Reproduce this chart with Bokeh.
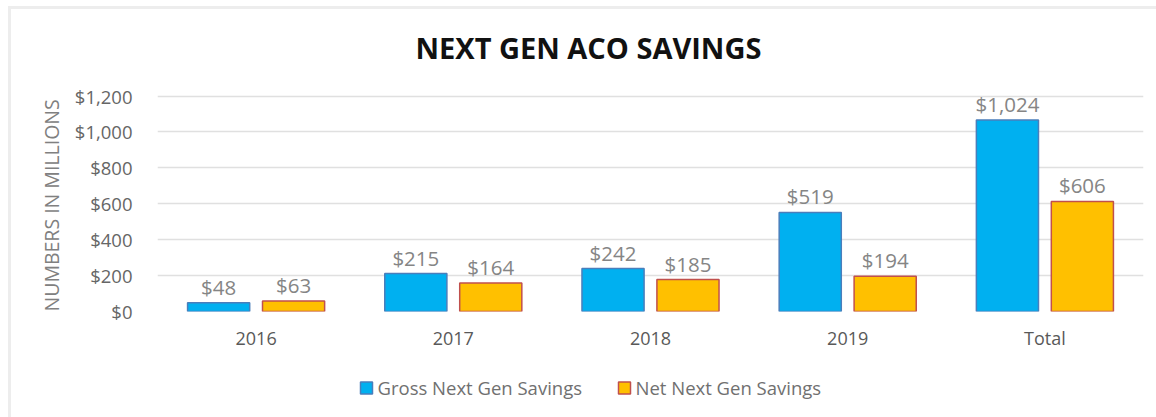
from bokeh.plotting import figure
from bokeh.layouts import column
from bokeh.models import (ColumnDataSource, FactorRange, FixedTicker, NumeralTickFormatter,
                          Range1d, Title)
from bokeh.transform import dodge
from bokeh.embed import file_html
from bokeh.resources import INLINE
from bokeh.core.properties import value

categories = ["2016", "2017", "2018", "2019", "Total"]
gross_values = [49, 211, 239, 552, 1067]
net_values = [59, 159, 178, 197, 613]
gross_labels = ["$48", "$215", "$242", "$519", "$1,024"]
net_labels = ["$63", "$164", "$185", "$194", "$606"]
y_ticks = [0, 200, 400, 600, 800, 1000, 1200]
series_names = ["Gross Next Gen Savings", "Net Next Gen Savings"]
chart_title = "NEXT GEN ACO SAVINGS"
y_title = "NUMBERS IN MILLIONS"

FONT = "Open Sans"
GROSS_FILL, GROSS_LINE = "#00B0F0", "#4A7EBB"
NET_FILL, NET_LINE = "#FFC000", "#C0504D"

# ---------- title strip (page y 9..69); frames aligned to page x 157..1143 ----------
tt = figure(width=1145, height=60, x_range=Range1d(157, 1143), y_range=Range1d(0, 60),
            output_backend="svg", toolbar_location=None, x_axis_type=None, y_axis_type=None,
            min_border_left=146, min_border_right=13, min_border_top=0, min_border_bottom=0,
            outline_line_color=None)
tt.xgrid.grid_line_color = None
tt.ygrid.grid_line_color = None
tt.text(x=[415], y=[22.5], text=[chart_title], text_align="left", text_baseline="middle",
        text_font=value(FONT), text_font_size="29px", text_font_style="bold",
        text_color="#111111")

# ---------- main chart (page y 69..365) ----------
src = ColumnDataSource(dict(cat=categories, gross=gross_values, net=net_values,
                            gl=gross_labels, nl=net_labels))

p = figure(x_range=FactorRange(factors=categories), y_range=Range1d(0, 1220),
           width=1145, height=296, output_backend="svg", toolbar_location=None,
           min_border_left=146, min_border_right=13, min_border_top=23, min_border_bottom=54,
           outline_line_color=None)

p.vbar(x=dodge("cat", -0.19, range=p.x_range), top="gross", width=0.315, source=src,
       fill_color=GROSS_FILL, line_color=GROSS_LINE, line_width=1.5)
p.vbar(x=dodge("cat", 0.19, range=p.x_range), top="net", width=0.315, source=src,
       fill_color=NET_FILL, line_color=NET_LINE, line_width=1.5)

p.text(x=dodge("cat", -0.19, range=p.x_range), y="gross", text="gl", source=src,
       text_align="center", text_baseline="alphabetic", y_offset=-16,
       text_font=value(FONT), text_font_size="20.5px", text_color="#858585")
p.text(x=dodge("cat", 0.19, range=p.x_range), y="net", text="nl", source=src,
       text_align="center", text_baseline="alphabetic", y_offset=-16,
       text_font=value(FONT), text_font_size="20.5px", text_color="#858585")

p.xgrid.grid_line_color = None
p.ygrid.grid_line_color = "#e0e0e0"
p.ygrid.grid_line_width = 1.5

p.yaxis.ticker = FixedTicker(ticks=y_ticks)
p.yaxis.formatter = NumeralTickFormatter(format="$0,0")
for ax in (p.xaxis[0], p.yaxis[0]):
    ax.axis_line_color = None
    ax.major_tick_line_color = None
    ax.minor_tick_line_color = None
    ax.major_tick_out = 0
    ax.major_tick_in = 0
    ax.major_label_text_font = FONT
    ax.major_label_text_font_size = "18px"

p.yaxis.major_label_text_font_size = "18.5px"
p.yaxis.major_label_text_color = "#666666"
p.yaxis.major_label_standoff = 25

p.add_layout(Title(text=y_title, align="left", offset=0, standoff=14,
                   text_font=FONT, text_font_size="19.5px", text_font_style="normal",
                   text_color="#808080"), "left")

p.xaxis.major_label_text_color = "#595959"
p.xaxis.major_label_standoff = 14

# ---------- legend strip (page y 365..417) ----------
lg = figure(width=1145, height=52, x_range=Range1d(157, 1143), y_range=Range1d(0, 52),
            output_backend="svg", toolbar_location=None, x_axis_type=None, y_axis_type=None,
            min_border_left=146, min_border_right=13, min_border_top=0, min_border_bottom=0,
            outline_line_color=None)
lg.xgrid.grid_line_color = None
lg.ygrid.grid_line_color = None
leg_src = ColumnDataSource(dict(sx=[366, 624], tx=[377, 635], sy=[29.5, 29.5], ty=[30.5, 30.5],
                                name=series_names, fill=[GROSS_FILL, NET_FILL],
                                line=[GROSS_LINE, NET_LINE]))
lg.rect(x="sx", y="sy", width=12, height=12, width_units="screen", height_units="screen",
        fill_color="fill", line_color="line", line_width=1.5, source=leg_src)
lg.text(x="tx", y="ty", text="name", text_align="left", text_baseline="middle",
        text_font=value(FONT), text_font_size="18.5px", text_color="#707070", source=leg_src)

layout = column(tt, p, lg, spacing=0,
                styles={"margin-left": "8px", "margin-top": "6px",
                        "border-left": "3px solid #ededed", "border-top": "3px solid #ededed"})

open("out.html", "w").write(file_html(layout, INLINE))
